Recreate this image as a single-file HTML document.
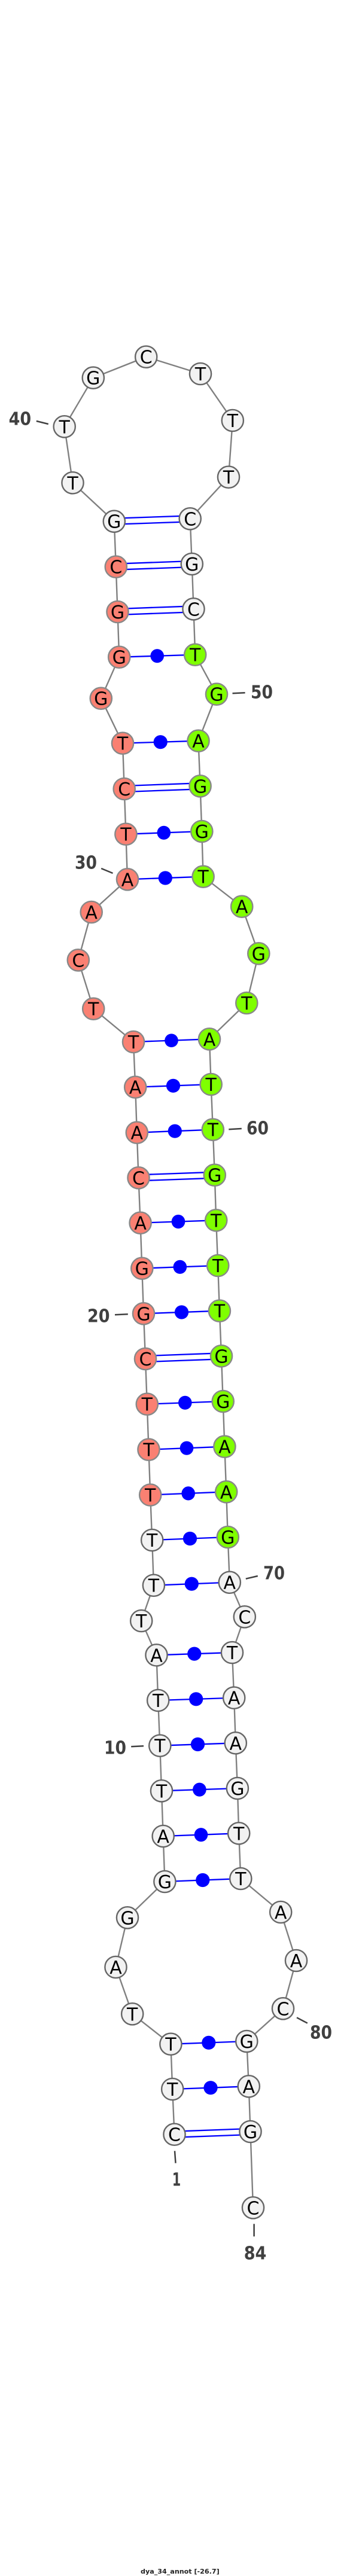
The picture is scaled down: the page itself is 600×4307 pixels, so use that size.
<!DOCTYPE html>
<html><head><meta charset="utf-8"><style>
html,body{margin:0;padding:0;background:#fff}
svg{display:block}
.n text,text.b{font-family:"DejaVu Sans","Liberation Sans",sans-serif;font-size:30px;text-anchor:middle;fill:#000}
.n circle{stroke-width:2.4}
.w circle{fill:#f2f2f2;stroke:#666}
.r circle{fill:#fa8072;stroke:#888}
.g circle{fill:#7fff00;stroke:#888}
.l text{font-family:"DejaVu Sans","Liberation Sans",sans-serif;font-weight:bold;font-size:30px;fill:#404040}
.t line{stroke:#404040;stroke-width:2.5}
.p line{stroke:#0000ff;stroke-width:2.3}
.p ellipse{fill:#0000ff}
</style></head><body>
<svg xmlns="http://www.w3.org/2000/svg" width="600" height="4307" viewBox="0 0 600 4307">
<rect width="600" height="4307" fill="#fff"/>
<polyline fill="none" stroke="#808080" stroke-width="2.4" points="291.5,3568.7 288.2,3493 285.4,3417.7 221.2,3367.3 193.5,3289 213,3206.3 275.4,3146 272.7,3070 270,2994.3 267.3,2918.7 264.2,2843 261.5,2767.3 236.2,2710 256.9,2650.7 254.2,2575 251.2,2499.5 248.5,2423.7 245.8,2347.7 243,2272 240,2196.3 237.3,2120.7 234.6,2044.7 231.5,1969.3 228.8,1893.7 226.2,1817.7 223,1742 156.2,1686.7 130.8,1605.3 152.7,1525 213,1470.3 210.4,1394.7 207.7,1319 205,1242.7 168.8,1167.7 199.2,1098.7 196.5,1023 193.8,947.7 190.8,871.7 121.5,807.3 107.7,713.3 155.8,631.7 244.2,596.7 335,625 388.8,703 382,797.7 317.7,867.3 320.8,943 323.5,1018.3 326.2,1094.7 362,1160.7 331.5,1238.7 334.6,1314.3 337.3,1390 339.6,1465.7 404.2,1515.7 432.3,1594.3 412.3,1677 350,1737.3 352.7,1813 355.8,1888.7 358.8,1964.7 361.2,2040.3 364.2,2116 366.9,2191.7 370,2267.3 372.7,2343 375.4,2418.7 378.2,2494.3 380.8,2570 383.8,2645.7 408.8,2703.3 388,2763 391.2,2838.7 393.8,2914.3 396.9,2990 399.2,3065.3 402.3,3141 469.2,3197 495,3278 473,3358.3 412.3,3413 415.8,3488.3 418.5,3564 423,3691.3"/>
<g class="p">
<line x1="190.8" y1="866.7" x2="317.7" y2="862.3"/><line x1="190.8" y1="876.7" x2="317.7" y2="872.3"/>
<line x1="193.8" y1="942.7" x2="320.8" y2="938"/><line x1="193.8" y1="952.7" x2="320.8" y2="948"/>
<line x1="196.5" y1="1018" x2="323.5" y2="1013.3"/><line x1="196.5" y1="1028" x2="323.5" y2="1023.3"/>
<line x1="207.7" y1="1314" x2="334.6" y2="1309.3"/><line x1="207.7" y1="1324" x2="334.6" y2="1319.3"/>
<line x1="231.5" y1="1964.3" x2="358.8" y2="1959.7"/><line x1="231.5" y1="1974.3" x2="358.8" y2="1969.7"/>
<line x1="243" y1="2267" x2="370" y2="2262.3"/><line x1="243" y1="2277" x2="370" y2="2272.3"/>
<line x1="291.5" y1="3563.7" x2="418.5" y2="3559"/><line x1="291.5" y1="3573.7" x2="418.5" y2="3569"/>
<line x1="199.2" y1="1098.7" x2="326.2" y2="1094.7"/><ellipse cx="262.7" cy="1096.7" rx="11.3" ry="11.6"/>
<line x1="205" y1="1242.7" x2="331.5" y2="1238.7"/><ellipse cx="268.2" cy="1240.7" rx="11.6" ry="11.6"/>
<line x1="210.4" y1="1394.7" x2="337.3" y2="1390"/><ellipse cx="273.8" cy="1392.3" rx="11.3" ry="11.6"/>
<line x1="213" y1="1470.3" x2="339.6" y2="1465.7"/><ellipse cx="276.3" cy="1468" rx="11.6" ry="11.6"/>
<line x1="223" y1="1742" x2="350" y2="1737.3"/><ellipse cx="286.5" cy="1739.7" rx="11.3" ry="11.3"/>
<line x1="226.2" y1="1817.7" x2="352.7" y2="1813"/><ellipse cx="289.5" cy="1815.3" rx="11.6" ry="11.6"/>
<line x1="228.8" y1="1893.7" x2="355.8" y2="1888.7"/><ellipse cx="292.3" cy="1891.2" rx="11.6" ry="11.6"/>
<line x1="234.6" y1="2044.7" x2="361.2" y2="2040.3"/><ellipse cx="298" cy="2042.5" rx="11.3" ry="11.6"/>
<line x1="237.3" y1="2120.7" x2="364.2" y2="2116"/><ellipse cx="300.8" cy="2118.3" rx="11.3" ry="11.6"/>
<line x1="240" y1="2196.3" x2="366.9" y2="2191.7"/><ellipse cx="303.5" cy="2194" rx="11.6" ry="11.6"/>
<line x1="245.8" y1="2347.7" x2="372.7" y2="2343"/><ellipse cx="309.3" cy="2345.3" rx="11.3" ry="11.6"/>
<line x1="248.5" y1="2423.7" x2="375.4" y2="2418.7"/><ellipse cx="312" cy="2421.2" rx="11.3" ry="11.6"/>
<line x1="251.2" y1="2499.5" x2="378.2" y2="2494.3"/><ellipse cx="314.7" cy="2496.9" rx="11.3" ry="11.6"/>
<line x1="254.2" y1="2575" x2="380.8" y2="2570"/><ellipse cx="317.5" cy="2572.5" rx="11.6" ry="11.6"/>
<line x1="256.9" y1="2650.7" x2="383.8" y2="2645.7"/><ellipse cx="320.3" cy="2648.2" rx="11.6" ry="11.6"/>
<line x1="261.5" y1="2767.3" x2="388" y2="2763"/><ellipse cx="324.8" cy="2765.1" rx="11.6" ry="11.6"/>
<line x1="264.2" y1="2843" x2="391.2" y2="2838.7"/><ellipse cx="327.7" cy="2840.8" rx="11.6" ry="11.6"/>
<line x1="267.3" y1="2918.7" x2="393.8" y2="2914.3"/><ellipse cx="330.5" cy="2916.5" rx="11.6" ry="11.6"/>
<line x1="270" y1="2994.3" x2="396.9" y2="2990"/><ellipse cx="333.4" cy="2992.2" rx="11.3" ry="11.6"/>
<line x1="272.7" y1="3070" x2="399.2" y2="3065.3"/><ellipse cx="336" cy="3067.7" rx="11.3" ry="11.6"/>
<line x1="275.4" y1="3146" x2="402.3" y2="3141"/><ellipse cx="338.8" cy="3143.5" rx="11.6" ry="11.6"/>
<line x1="285.4" y1="3417.7" x2="412.3" y2="3413"/><ellipse cx="348.8" cy="3415.3" rx="11.6" ry="11.6"/>
<line x1="288.2" y1="3493" x2="415.8" y2="3488.3"/><ellipse cx="352" cy="3490.7" rx="11.6" ry="11.6"/>
</g>
<g class="n w">
<circle cx="291.5" cy="3568.7" r="18.1"/><text x="291.5" y="3579.7">C</text>
<circle cx="288.2" cy="3493" r="18.1"/><text x="288.2" y="3504">T</text>
<circle cx="285.4" cy="3417.7" r="18.1"/><text x="285.4" y="3428.7">T</text>
<circle cx="221.2" cy="3367.3" r="18.1"/><text x="221.2" y="3378.3">T</text>
<circle cx="193.5" cy="3289" r="18.1"/><text x="193.5" y="3300">A</text>
<circle cx="213" cy="3206.3" r="18.1"/><text x="213" y="3217.3">G</text>
<circle cx="275.4" cy="3146" r="18.1"/><text x="275.4" y="3157">G</text>
<circle cx="272.7" cy="3070" r="18.1"/><text x="272.7" y="3081">A</text>
<circle cx="270" cy="2994.3" r="18.1"/><text x="270" y="3005.3">T</text>
<circle cx="267.3" cy="2918.7" r="18.1"/><text x="267.3" y="2929.7">T</text>
<circle cx="264.2" cy="2843" r="18.1"/><text x="264.2" y="2854">T</text>
<circle cx="261.5" cy="2767.3" r="18.1"/><text x="261.5" y="2778.3">A</text>
<circle cx="236.2" cy="2710" r="18.1"/><text x="236.2" y="2721">T</text>
<circle cx="256.9" cy="2650.7" r="18.1"/><text x="256.9" y="2661.7">T</text>
<circle cx="254.2" cy="2575" r="18.1"/><text x="254.2" y="2586">T</text>
<circle cx="190.8" cy="871.7" r="18.1"/><text x="190.8" y="882.7">G</text>
<circle cx="121.5" cy="807.3" r="18.1"/><text x="121.5" y="818.3">T</text>
<circle cx="107.7" cy="713.3" r="18.1"/><text x="107.7" y="724.3">T</text>
<circle cx="155.8" cy="631.7" r="18.1"/><text x="155.8" y="642.7">G</text>
<circle cx="244.2" cy="596.7" r="18.1"/><text x="244.2" y="607.7">C</text>
<circle cx="335" cy="625" r="18.1"/><text x="335" y="636">T</text>
<circle cx="388.8" cy="703" r="18.1"/><text x="388.8" y="714">T</text>
<circle cx="382" cy="797.7" r="18.1"/><text x="382" y="808.7">T</text>
<circle cx="317.7" cy="867.3" r="18.1"/><text x="317.7" y="878.3">C</text>
<circle cx="320.8" cy="943" r="18.1"/><text x="320.8" y="954">G</text>
<circle cx="323.5" cy="1018.3" r="18.1"/><text x="323.5" y="1029.3">C</text>
<circle cx="383.8" cy="2645.7" r="18.1"/><text x="383.8" y="2656.7">A</text>
<circle cx="408.8" cy="2703.3" r="18.1"/><text x="408.8" y="2714.3">C</text>
<circle cx="388" cy="2763" r="18.1"/><text x="388" y="2774">T</text>
<circle cx="391.2" cy="2838.7" r="18.1"/><text x="391.2" y="2849.7">A</text>
<circle cx="393.8" cy="2914.3" r="18.1"/><text x="393.8" y="2925.3">A</text>
<circle cx="396.9" cy="2990" r="18.1"/><text x="396.9" y="3001">G</text>
<circle cx="399.2" cy="3065.3" r="18.1"/><text x="399.2" y="3076.3">T</text>
<circle cx="402.3" cy="3141" r="18.1"/><text x="402.3" y="3152">T</text>
<circle cx="469.2" cy="3197" r="18.1"/><text x="469.2" y="3208">A</text>
<circle cx="495" cy="3278" r="18.1"/><text x="495" y="3289">A</text>
<circle cx="473" cy="3358.3" r="18.1"/><text x="473" y="3369.3">C</text>
<circle cx="412.3" cy="3413" r="18.1"/><text x="412.3" y="3424">G</text>
<circle cx="415.8" cy="3488.3" r="18.1"/><text x="415.8" y="3499.3">A</text>
<circle cx="418.5" cy="3564" r="18.1"/><text x="418.5" y="3575">G</text>
<circle cx="423" cy="3691.3" r="18.1"/><text x="423" y="3702.3">C</text>
</g>
<g class="n r">
<circle cx="251.2" cy="2499.5" r="18.1"/><text x="251.2" y="2510.5">T</text>
<circle cx="248.5" cy="2423.7" r="18.1"/><text x="248.5" y="2434.7">T</text>
<circle cx="245.8" cy="2347.7" r="18.1"/><text x="245.8" y="2358.7">T</text>
<circle cx="243" cy="2272" r="18.1"/><text x="243" y="2283">C</text>
<circle cx="240" cy="2196.3" r="18.1"/><text x="240" y="2207.3">G</text>
<circle cx="237.3" cy="2120.7" r="18.1"/><text x="237.3" y="2131.7">G</text>
<circle cx="234.6" cy="2044.7" r="18.1"/><text x="234.6" y="2055.7">A</text>
<circle cx="231.5" cy="1969.3" r="18.1"/><text x="231.5" y="1980.3">C</text>
<circle cx="228.8" cy="1893.7" r="18.1"/><text x="228.8" y="1904.7">A</text>
<circle cx="226.2" cy="1817.7" r="18.1"/><text x="226.2" y="1828.7">A</text>
<circle cx="223" cy="1742" r="18.1"/><text x="223" y="1753">T</text>
<circle cx="156.2" cy="1686.7" r="18.1"/><text x="156.2" y="1697.7">T</text>
<circle cx="130.8" cy="1605.3" r="18.1"/><text x="130.8" y="1616.3">C</text>
<circle cx="152.7" cy="1525" r="18.1"/><text x="152.7" y="1536">A</text>
<circle cx="213" cy="1470.3" r="18.1"/><text x="213" y="1481.3">A</text>
<circle cx="210.4" cy="1394.7" r="18.1"/><text x="210.4" y="1405.7">T</text>
<circle cx="207.7" cy="1319" r="18.1"/><text x="207.7" y="1330">C</text>
<circle cx="205" cy="1242.7" r="18.1"/><text x="205" y="1253.7">T</text>
<circle cx="168.8" cy="1167.7" r="18.1"/><text x="168.8" y="1178.7">G</text>
<circle cx="199.2" cy="1098.7" r="18.1"/><text x="199.2" y="1109.7">G</text>
<circle cx="196.5" cy="1023" r="18.1"/><text x="196.5" y="1034">G</text>
<circle cx="193.8" cy="947.7" r="18.1"/><text x="193.8" y="958.7">C</text>
</g>
<g class="n g">
<circle cx="326.2" cy="1094.7" r="18.1"/><text x="326.2" y="1105.7">T</text>
<circle cx="362" cy="1160.7" r="18.1"/><text x="362" y="1171.7">G</text>
<circle cx="331.5" cy="1238.7" r="18.1"/><text x="331.5" y="1249.7">A</text>
<circle cx="334.6" cy="1314.3" r="18.1"/><text x="334.6" y="1325.3">G</text>
<circle cx="337.3" cy="1390" r="18.1"/><text x="337.3" y="1401">G</text>
<circle cx="339.6" cy="1465.7" r="18.1"/><text x="339.6" y="1476.7">T</text>
<circle cx="404.2" cy="1515.7" r="18.1"/><text x="404.2" y="1526.7">A</text>
<circle cx="432.3" cy="1594.3" r="18.1"/><text x="432.3" y="1605.3">G</text>
<circle cx="412.3" cy="1677" r="18.1"/><text x="412.3" y="1688">T</text>
<circle cx="350" cy="1737.3" r="18.1"/><text x="350" y="1748.3">A</text>
<circle cx="352.7" cy="1813" r="18.1"/><text x="352.7" y="1824">T</text>
<circle cx="355.8" cy="1888.7" r="18.1"/><text x="355.8" y="1899.7">T</text>
<circle cx="358.8" cy="1964.7" r="18.1"/><text x="358.8" y="1975.7">G</text>
<circle cx="361.2" cy="2040.3" r="18.1"/><text x="361.2" y="2051.3">T</text>
<circle cx="364.2" cy="2116" r="18.1"/><text x="364.2" y="2127">T</text>
<circle cx="366.9" cy="2191.7" r="18.1"/><text x="366.9" y="2202.7">T</text>
<circle cx="370" cy="2267.3" r="18.1"/><text x="370" y="2278.3">G</text>
<circle cx="372.7" cy="2343" r="18.1"/><text x="372.7" y="2354">G</text>
<circle cx="375.4" cy="2418.7" r="18.1"/><text x="375.4" y="2429.7">A</text>
<circle cx="378.2" cy="2494.3" r="18.1"/><text x="378.2" y="2505.3">A</text>
<circle cx="380.8" cy="2570" r="18.1"/><text x="380.8" y="2581">G</text>
</g>
<g class="t">
<line x1="60.8" y1="704" x2="80.8" y2="709"/>
<line x1="388.5" y1="1159.3" x2="409.6" y2="1158.3"/>
<line x1="169.2" y1="1452" x2="188.5" y2="1460"/>
<line x1="382.3" y1="1888.3" x2="403.8" y2="1887"/>
<line x1="192" y1="2198.3" x2="213.8" y2="2197.3"/>
<line x1="410.8" y1="2639.7" x2="430.8" y2="2635"/>
<line x1="219.2" y1="2920.3" x2="240" y2="2919.3"/>
<line x1="496" y1="3373.3" x2="513.8" y2="3382.7"/>
<line x1="292" y1="3596.3" x2="293.5" y2="3616.7"/>
<line x1="424.6" y1="3718.3" x2="424.6" y2="3739.3"/>
</g>
<g class="l">
<text x="14.6" y="710.5" textLength="37.5" lengthAdjust="spacingAndGlyphs">40</text>
<text x="419" y="1167.7" textLength="37" lengthAdjust="spacingAndGlyphs">50</text>
<text x="125" y="1452.3" textLength="37" lengthAdjust="spacingAndGlyphs">30</text>
<text x="412" y="1896.7" textLength="37" lengthAdjust="spacingAndGlyphs">60</text>
<text x="146" y="2210.7" textLength="37.5" lengthAdjust="spacingAndGlyphs">20</text>
<text x="440" y="2640.7" textLength="36" lengthAdjust="spacingAndGlyphs">70</text>
<text x="174" y="2932.7" textLength="37" lengthAdjust="spacingAndGlyphs">10</text>
<text x="518" y="3408.3" textLength="37" lengthAdjust="spacingAndGlyphs">80</text>
<text x="287.7" y="3654.3" textLength="14.5" lengthAdjust="spacingAndGlyphs">1</text>
<text x="407.7" y="3777.3" textLength="37.7" lengthAdjust="spacingAndGlyphs">84</text>
</g>
<text x="235" y="4303" font-family="'DejaVu Sans','Liberation Sans',sans-serif" font-weight="bold" font-size="11" fill="#222" textLength="131.7" lengthAdjust="spacingAndGlyphs">dya_34_annot [-26.7]</text>
</svg>
</body></html>
